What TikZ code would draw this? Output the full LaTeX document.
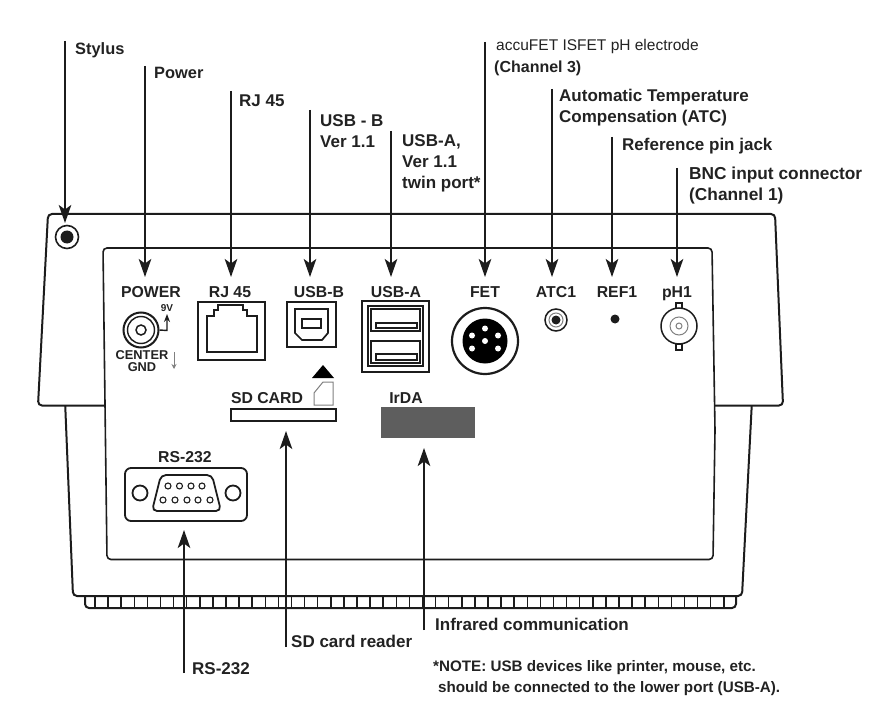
\documentclass[tikz,border=0pt]{standalone}
\usepackage{fontspec}
\setmainfont{Liberation Sans}
\usetikzlibrary{arrows.meta,calc}
\definecolor{ink}{HTML}{1C1C1C}
\definecolor{txt}{HTML}{222222}
\definecolor{irda}{HTML}{5E5E5E}
\tikzset{
  conn/.style={ink,line width=2pt,-{Stealth[length=18pt,width=12.5pt,inset=4.5pt]}},
  outline/.style={ink,line width=2pt,rounded corners=4pt,fill=white},
  lbl/.style={inner sep=0pt,anchor=base west,align=left,text=txt,font=\fontsize{17}{21}\selectfont\bfseries},
  plbl/.style={inner sep=0pt,anchor=base,text=txt,font=\fontsize{15.8}{19}\selectfont\bfseries},
}
\begin{document}
\begin{tikzpicture}[x=1pt,y=-1pt]
\useasboundingbox (0,0) rectangle (869,719);
% housing
\draw[outline,fill=white] (85,596) -- (85,608) -- (736,608) -- (736,596);
\foreach \i in {0,...,48} {\draw[ink,line width=1.5pt] ({95+\i*13.1},597) -- ({95+\i*13.1},608);}
\draw[outline] (65,400) -- (73,596) -- (742,596) -- (752,400);
\draw[outline] (48,214) -- (775,214) -- (783,405.5) -- (38,405.5) -- cycle;
\draw[outline,line width=1.6pt] (103,248) -- (712,248) -- (715,430) -- (713,559.5) -- (107,559.5) -- cycle;
% stylus
\node[circle,draw=ink,line width=1.6pt,fill=white,minimum size=23pt,inner sep=0pt] (stylus) at (67,237) {};
\fill[ink] (stylus.center) circle (6.5);
% power jack
\node[circle,draw=ink,line width=2pt,minimum size=35pt,inner sep=0pt] (jack) at (141,330) {};
\draw[ink,line width=1.4pt] (jack.center) circle (13.5);
\draw[ink,line width=1.5pt] (jack.center) circle (5);
\coordinate (v9) at (167,314);
\draw[ink,line width=1.4pt,-{Stealth[length=8pt,width=6pt]}] (jack.east) -- (167,330.5) -- (v9);
\coordinate (gndA) at (174,352);
\coordinate (gndB) at (174,369);
\draw[gray,line width=1pt,-{Stealth[length=5pt,width=5pt]}] (gndA) -- (gndB);
% RJ45
\node[draw=ink,line width=1.5pt,minimum width=67pt,minimum height=58pt,inner sep=0pt] (rj) at (231.5,331) {};
\draw[ink,line width=1.8pt] (207,352) -- (257,352) -- (257,316) -- (247,316) -- (247,310) -- (243,310) -- (243,305) -- (218,305) -- (218,310) -- (214,310) -- (214,316) -- (207,316) -- cycle;
% USB-B
\node[draw=ink,line width=1.5pt,minimum width=49pt,minimum height=45pt,inner sep=0pt] (usbb) at (311.5,324.5) {};
\draw[ink,line width=1.7pt] (295,309) -- (328,309) -- (328,333) -- (322,340) -- (302,340) -- (295,333) -- cycle;
\draw[ink,line width=1.5pt] (302,319) rectangle (321,328);
% SD
\fill[black] (323,365) -- (334,378) -- (312,378) -- cycle;
\draw[gray,line width=1pt] (314,405) -- (333,405) -- (333,382) -- (323,382) -- (314,393) -- cycle;
\node[draw=ink,line width=1.5pt,minimum width=105pt,minimum height=12pt,inner sep=0pt] (sdslot) at (283.5,415) {};
% USB-A
\node[draw=ink,line width=1.4pt,minimum width=67pt,minimum height=71pt,inner sep=0pt] (usba) at (395.5,336.5) {};
\draw[ink,line width=1.6pt] (368,306) rectangle (423,366);
\draw[ink,line width=1.5pt] (371,309) rectangle (420,331);
\draw[ink,line width=1.5pt] (371,341) rectangle (420,363);
\draw[ink,line width=1.4pt] (376,323) rectangle (417,328);
\draw[ink,line width=1.4pt] (376,354) rectangle (417,360);
% FET
\node[circle,draw=ink,line width=2.2pt,fill=white,minimum size=66pt,inner sep=0pt] (fet) at (485,341) {};
\fill[black] (fet.center) circle (22.5);
\foreach \dx/\dy in {0/-12.5,-13/-5.5,13/-5.5,0/0,-13/7.5,13/7.5} {\fill[white] ($(fet.center)+(\dx,\dy)$) circle (3);}
% ATC
\node[circle,draw=ink,line width=1.5pt,minimum size=22pt,inner sep=0pt] (atc) at (556,320) {};
\draw[gray,line width=1pt] (atc.center) circle (7);
\fill[ink] (atc.center) circle (4.5);
% REF
\node[circle,fill=ink,minimum size=9pt,inner sep=0pt] (ref) at (615,319) {};
% pH
\draw[ink,line width=1.4pt,fill=white] (676,303) rectangle (682,309) (676,344) rectangle (682,350);
\node[circle,draw=ink,line width=1.5pt,fill=white,minimum size=36pt,inner sep=0pt] (bnc) at (679,326) {};
\draw[gray,line width=1pt] (bnc.center) circle (9) (bnc.center) circle (3);
% IrDA
\node[fill=irda,minimum width=94pt,minimum height=31pt,inner sep=0pt] (ir) at (428,422.5) {};
% RS232
\node[draw=ink,line width=1.8pt,rounded corners=6pt,minimum width=122pt,minimum height=53pt,inner sep=0pt] (rs) at (186,494.5) {};
\node[circle,draw=ink,line width=1.8pt,minimum size=15pt,inner sep=0pt] (rsl) at (140,493) {};
\node[circle,draw=ink,line width=1.8pt,minimum size=15pt,inner sep=0pt] (rsr) at (233,493) {};
\draw[ink,line width=1.8pt,rounded corners=5pt] (161,475) -- (212,475) -- (221,511) -- (152,511) -- cycle;
\foreach \px in {168,179.5,191,202} {\draw[ink,line width=1.1pt] (\px,486) circle (3);}
\foreach \px in {163,175,187,198,210} {\draw[ink,line width=1.1pt] (\px,500) circle (3);}
% port labels
\node[plbl] (lpower) at (151,297) {POWER};
\node[plbl] (lrj) at (230,297) {RJ 45};
\node[plbl] (lusbb) at (319,297) {USB-B};
\node[plbl] (lusba) at (396,297) {USB-A};
\node[plbl] (lfet) at (485,297) {FET};
\node[plbl] (latc) at (556,297) {ATC1};
\node[plbl] (lref) at (617,297) {REF1};
\node[plbl] (lph) at (677,297) {pH1};
\node[plbl,font=\fontsize{10}{12}\selectfont\bfseries] (l9v) at (167,311) {9V};
\node[plbl,font=\fontsize{12.8}{12}\selectfont\bfseries,align=center,anchor=base] (lcen) at (142,371) {CENTER\\GND};
\node[plbl] (lsd) at (267,403) {SD CARD};
\node[plbl] (lirda) at (406,403) {IrDA};
\node[plbl] (lrs) at (185,462) {RS-232};
% callouts
\node[lbl,font=\fontsize{16.4}{21}\selectfont\bfseries] (tstylus) at (75,55) {Stylus};
\node[lbl,font=\fontsize{16.4}{21}\selectfont\bfseries] (tpower) at (154,79) {Power};
\node[lbl] (trj) at (239,107) {RJ 45};
\node[lbl] (tusbb) at (320,148) {USB - B\\Ver 1.1};
\node[lbl] (tusba) at (402,189) {USB-A,\\Ver 1.1\\twin port*};
\node[lbl,font=\fontsize{15.5}{21}\selectfont] (tfet) at (496,51) {accuFET ISFET pH electrode};
\node[lbl,font=\fontsize{16}{21}\selectfont\bfseries] (tfet2) at (494,73) {(Channel 3)};
\node[lbl] (tatc) at (559,123) {Automatic Temperature\\Compensation (ATC)};
\node[lbl] (tref) at (622,151) {Reference pin jack};
\node[lbl,font=\fontsize{17.3}{21}\selectfont\bfseries] (tbnc) at (689,201) {BNC input connector\\(Channel 1)};
\node[lbl] (trs) at (192,674) {RS-232};
\node[lbl] (tsd) at (291,647) {SD card reader};
\node[lbl] (tir) at (435,630) {Infrared communication};
\node[lbl,font=\fontsize{15.2}{21}\selectfont\bfseries] (tnote) at (433,692) {*NOTE: USB devices like printer, mouse, etc.\\\hspace*{5pt}should be connected to the lower port (USB-A).};
% arrows
\foreach \n/\x/\a/\b in {s/65/41/223,p/145/66/277,r/231/91/277,ub/310/110/277,ua/391/131/277,f/485/42/277,t/552/89/277,e/612/137/277,h/677/168/277,rs/184/673/530,sd/286/647/431,i/424/630/448} {
  \coordinate (\n A) at (\x,\a);
  \coordinate (\n B) at (\x,\b);
  \draw[conn] (\n A) -- (\n B);
}
\end{tikzpicture}
\end{document}
